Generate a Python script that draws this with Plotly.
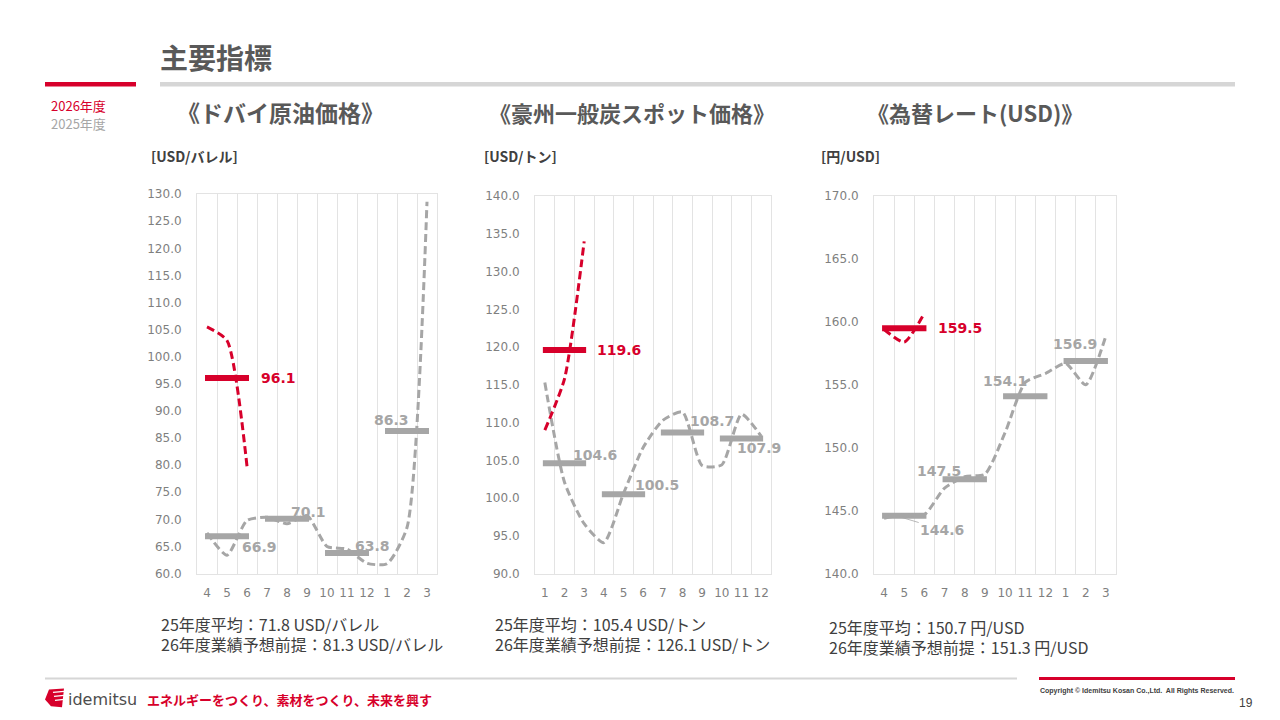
import plotly.graph_objects as go

# === データ ===
# ドバイ原油価格 [USD/バレル]（4月〜3月）
oil_months = ['4', '5', '6', '7', '8', '9', '10', '11', '12', '1', '2', '3']
oil_2026 = [105.5, 103.0, 79.8]
oil_2025 = [67.5, 63.4, 69.8, 70.4, 69.2, 70.7, 65.0, 64.5, 61.9, 61.8, 68.5, 128.6]
oil_avg_2026 = [96.1]
oil_avg_2025 = [66.9, 70.1, 63.8, 86.3]

# 豪州一般炭スポット価格 [USD/トン]（1月〜12月）
coal_months = ['1', '2', '3', '4', '5', '6', '7', '8', '9', '10', '11', '12']
coal_2026 = [109.0, 115.8, 134.0]
coal_2025 = [115.3, 102.1, 96.6, 94.1, 100.6, 106.7, 110.3, 111.4, 104.3, 104.4, 111.1, 108.2]
coal_avg_2026 = [119.6]
coal_avg_2025 = [104.6, 100.5, 108.7, 107.9]

# 為替レート [円/USD]（4月〜3月）
fx_months = ['4', '5', '6', '7', '8', '9', '10', '11', '12', '1', '2', '3']
fx_2026 = [159.4, 158.4, 160.7]
fx_2025 = [144.4, 144.7, 144.7, 146.8, 147.7, 147.9, 151.2, 155.2, 155.9, 156.7, 155.0, 158.9]
fx_avg_2026 = [159.5]
fx_avg_2025 = [144.6, 147.5, 154.1, 156.9]

# === スタイル ===
W, H = 1280, 720
RED = '#d7002b'
GRAY = '#a6a6a6'
DARK = '#595959'
TEXT = '#404040'
AXIS_GRAY = '#7f7f7f'
GRID = '#e3e3e3'
NUM_FONT = 'DejaVu Sans, Noto Sans CJK JP'
JP_FONT = 'Noto Sans CJK JP, DejaVu Sans'

# 撮影時の縦方向のずれを補正
Y_SCALE, Y_OFF = 0.982, 5.6


def px(x):
    return x / W


def py(y):
    return 1 - ((y - Y_OFF) / Y_SCALE) / H


panels = [
    dict(months=oil_months, cur=oil_2026, prev=oil_2025,
         avg_cur=oil_avg_2026, avg_prev=oil_avg_2025, yrange=[60, 130],
         xdom=[197, 437], ydom=[573, 193],
         # ラベル位置 (四半期先頭からのずれ[区分], 縦ずれ[px])
         off_cur=[(2.62, 0)],
         off_prev=[(1.65, -11), (1.1, 7), (1.3, 7), (-0.75, 11)]),
    dict(months=coal_months, cur=coal_2026, prev=coal_2025,
         avg_cur=coal_avg_2026, avg_prev=coal_avg_2025, yrange=[90, 140],
         xdom=[535, 771], ydom=[573, 195],
         off_cur=[(2.56, 0)],
         off_prev=[(1.34, 8), (1.5, 9), (1.3, 11), (0.65, -10)]),
    dict(months=fx_months, cur=fx_2026, prev=fx_2025,
         avg_cur=fx_avg_2026, avg_prev=fx_avg_2025, yrange=[140, 170],
         xdom=[874, 1116], ydom=[573, 195],
         off_cur=[(2.59, 0)],
         off_prev=[None, (-1.45, 8), (-1.2, 15), (-0.74, 17)]),
]

fig = go.Figure()
annotations = []
layout_axes = {}

for i, p in enumerate(panels, start=1):
    xa = 'x' if i == 1 else f'x{i}'
    ya = 'y' if i == 1 else f'y{i}'
    n = len(p['months'])

    # 四半期平均（太線）
    for avgs, color in ((p['avg_prev'], GRAY), (p['avg_cur'], RED)):
        for q, v in enumerate(avgs):
            fig.add_trace(go.Scatter(
                x=[3 * q - 0.1, 3 * q + 2.1], y=[v, v], xaxis=xa, yaxis=ya,
                mode='lines', line=dict(color=color, width=6),
                hoverinfo='skip', showlegend=False))

    # 月次推移（破線）
    for vals, color in ((p['prev'], GRAY), (p['cur'], RED)):
        fig.add_trace(go.Scatter(
            x=list(range(len(vals))), y=vals, xaxis=xa, yaxis=ya,
            mode='lines', line=dict(color=color, width=3, dash='8px,4px',
                                    shape='spline', smoothing=0.6),
            showlegend=False))

    # 平均値ラベル
    for avgs, offs, color in ((p['avg_prev'], p['off_prev'], GRAY),
                              (p['avg_cur'], p['off_cur'], RED)):
        for q, v in enumerate(avgs):
            font = dict(family=NUM_FONT, size=14, color=color, weight='bold')
            if offs[q] is None:
                annotations.append(dict(
                    x=3 * q + 0.9, y=v - 0.15, xref=xa, yref=ya,
                    text=f'{v:.1f}', font=font, showarrow=True,
                    arrowhead=0, arrowwidth=0.8, arrowcolor=GRAY,
                    ax=40, ay=12, standoff=0))
            else:
                dx, dy = offs[q]
                annotations.append(dict(
                    x=3 * q + dx, y=v, xref=xa, yref=ya, yshift=dy,
                    text=f'{v:.1f}', font=font, showarrow=False,
                    xanchor='left', yanchor='middle'))

    layout_axes['xaxis' if i == 1 else f'xaxis{i}'] = dict(
        domain=[px(p['xdom'][0]), px(p['xdom'][1])], anchor=ya,
        range=[-0.5, n - 0.5], tickmode='array',
        tickvals=list(range(n)), ticktext=p['months'],
        showgrid=False, zeroline=False, fixedrange=True,
        showline=True, mirror=True, linecolor=GRID, linewidth=1,
        ticks='', ticklabelstandoff=8,
        tickfont=dict(family=NUM_FONT, size=12, color=AXIS_GRAY),
        minor=dict(tick0=-0.5, dtick=1, showgrid=True, gridcolor=GRID,
                   gridwidth=1, ticks=''))
    layout_axes['yaxis' if i == 1 else f'yaxis{i}'] = dict(
        domain=[py(p['ydom'][0]), py(p['ydom'][1])], anchor=xa,
        range=p['yrange'], dtick=5, tickformat='.1f',
        showgrid=False, zeroline=False, fixedrange=True,
        showline=True, mirror=True, linecolor=GRID, linewidth=1,
        ticks='', ticklabelstandoff=12,
        tickfont=dict(family=NUM_FONT, size=12, color=AXIS_GRAY))


def text(x, y, s, size, color, bold=False, anchor='left', family=JP_FONT):
    annotations.append(dict(
        x=px(x), y=py(y), xref='paper', yref='paper', text=s, showarrow=False,
        xanchor=anchor, yanchor='middle',
        font=dict(family=family, size=size, color=color,
                  weight='bold' if bold else 'normal')))


# === ヘッダー ===
text(158, 56, '主要指標', 28, DARK, bold=True)
text(49, 104, '2026年度', 13, RED)
text(49, 122, '2025年度', 13, GRAY)
text(280, 111, '《ドバイ原油価格》', 23, DARK, bold=True, anchor='center')
text(632, 111, '《豪州一般炭スポット価格》', 22, DARK, bold=True, anchor='center')
text(975, 111, '《為替レート(USD)》', 22, DARK, bold=True, anchor='center')
text(149, 155, '[USD/バレル]', 14, TEXT, bold=True)
text(482, 155, '[USD/トン]', 14, TEXT, bold=True)
text(819, 155, '[円/USD]', 14, TEXT, bold=True)

# === 注記 ===
text(159, 624, '25年度平均：71.8 USD/バレル', 16, TEXT)
text(159, 644, '26年度業績予想前提：81.3 USD/バレル', 16, TEXT)
text(493, 624, '25年度平均：105.4 USD/トン', 16, TEXT)
text(493, 644, '26年度業績予想前提：126.1 USD/トン', 16, TEXT)
text(827, 627, '25年度平均：150.7 円/USD', 16, TEXT)
text(827, 647, '26年度業績予想前提：151.3 円/USD', 16, TEXT)

# === フッター ===
text(66, 699, 'idemitsu', 16, '#4d4d4d', family='DejaVu Sans, Noto Sans')
text(145, 699, 'エネルギーをつくり、素材をつくり、未来を興す', 13, RED, bold=True)
text(1137, 691, 'Copyright © Idemitsu Kosan Co.,Ltd.  All Rights Reserved.', 7,
     '#404040', bold=True, anchor='center', family='Liberation Sans Narrow, Liberation Sans')
text(1255, 703, '19', 12, '#404040', anchor='right', family='Liberation Sans Narrow, Liberation Sans')

shapes = [
    dict(type='line', xref='paper', yref='paper', x0=px(45), x1=px(136), y0=py(83), y1=py(83),
         line=dict(color=RED, width=4.5)),
    dict(type='line', xref='paper', yref='paper', x0=px(160), x1=px(1235), y0=py(83), y1=py(83),
         line=dict(color='#d6d6d6', width=4.5)),
    dict(type='line', xref='paper', yref='paper', x0=px(45), x1=px(1017), y0=py(678), y1=py(678),
         line=dict(color='#d6d6d6', width=2)),
    dict(type='line', xref='paper', yref='paper', x0=px(1039), x1=px(1235), y0=py(678), y1=py(678),
         line=dict(color=RED, width=3)),
    # ロゴ（簡略）
    dict(type='path', xref='paper', yref='paper',
         path=f'M {px(49)} {py(689)} L {px(64)} {py(688)} L {px(62)} {py(707)} '
              f'L {px(51)} {py(706)} L {px(45)} {py(699)} Z',
         fillcolor=RED, line=dict(width=0)),
]
for k in range(3):
    yy = 692 + 4 * k
    shapes.append(dict(type='line', xref='paper', yref='paper',
                       x0=px(53 + k), x1=px(64), y0=py(yy), y1=py(yy - 1),
                       line=dict(color='white', width=1.2)))

fig.update_layout(
    width=W, height=H, autosize=False,
    margin=dict(l=0, r=0, t=0, b=0),
    paper_bgcolor='white', plot_bgcolor='white',
    showlegend=False, annotations=annotations, shapes=shapes,
    **layout_axes,
)

# ページ余白を消して図を左上に固定
pin = ("document.body.style.margin='0';"
       "var d=document.getElementById('{plot_id}');"
       "d.style.position='fixed';d.style.top='0';d.style.left='0';")
fig.write_html('out.html', config={'displayModeBar': False}, post_script=pin)
